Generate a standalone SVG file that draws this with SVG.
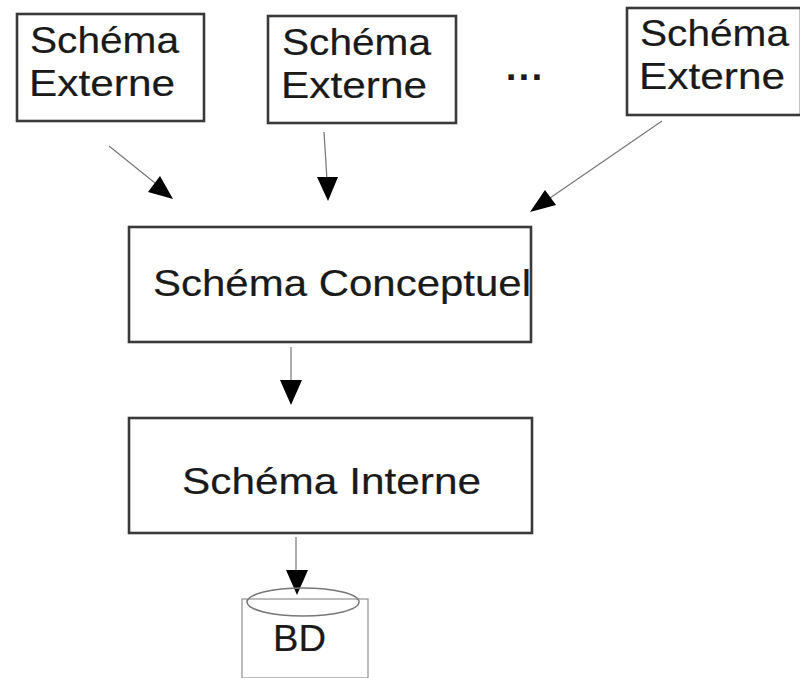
<svg xmlns="http://www.w3.org/2000/svg" width="800" height="678" viewBox="0 0 800 678">
<style>
text{font-family:"Liberation Sans",Arial,sans-serif;fill:#1a1a1a;font-size:37px;stroke:#1a1a1a;stroke-width:.2}
.b{fill:#fff;stroke:#3a3a3a;stroke-width:2.6}
.l{stroke:#777;stroke-width:1.2;fill:none}
.h{fill:#000;stroke:none}
</style>
<rect width="800" height="678" fill="#fff"/>
<g id="connectors">
<line class="l" x1="109" y1="146" x2="155" y2="183"/><polygon class="h" points="173,199 148,192 160,176"/>
<line class="l" x1="324" y1="132" x2="327" y2="180"/><polygon class="h" points="328,201 317,177 338,177"/>
<line class="l" x1="662" y1="121" x2="550" y2="198"/><polygon class="h" points="530,212 545,190 556,205"/>
<line class="l" x1="291" y1="347" x2="291" y2="382"/><polygon class="h" points="291,405 280,380 302,380"/>
<line class="l" x1="296" y1="537" x2="296" y2="572"/><polygon class="h" points="297,595 286,570 308,570"/>
</g>
<g id="ext1"><rect class="b" x="17" y="14" width="187" height="107"/><text x="30" y="53" textLength="149" lengthAdjust="spacingAndGlyphs">Schéma</text><text x="29" y="96" textLength="146" lengthAdjust="spacingAndGlyphs">Externe</text></g>
<g id="ext2"><rect class="b" x="268" y="16" width="188" height="107"/><text x="282" y="55" textLength="149" lengthAdjust="spacingAndGlyphs">Schéma</text><text x="281" y="98" textLength="146" lengthAdjust="spacingAndGlyphs">Externe</text></g>
<g id="dots"><text x="506" y="80" font-size="32" font-weight="700" textLength="36" lengthAdjust="spacing">...</text></g>
<g id="ext3"><rect class="b" x="627" y="8" width="174" height="107"/><text x="640" y="46" textLength="149" lengthAdjust="spacingAndGlyphs">Schéma</text><text x="639" y="89" textLength="146" lengthAdjust="spacingAndGlyphs">Externe</text></g>
<g id="conceptuel"><rect class="b" x="129" y="227" width="402" height="115"/><text x="153" y="296" textLength="378" lengthAdjust="spacingAndGlyphs">Schéma Conceptuel</text></g>
<g id="interne"><rect class="b" x="129" y="418" width="403" height="115"/><text x="182" y="494" textLength="299" lengthAdjust="spacingAndGlyphs">Schéma Interne</text></g>
<g id="bd"><rect x="242" y="599" width="126" height="79" fill="#fff" stroke="#999" stroke-width="1.3"/><ellipse cx="303" cy="602" rx="56" ry="14" fill="none" stroke="#777" stroke-width="1.5"/><text x="273" y="651" textLength="53" lengthAdjust="spacingAndGlyphs">BD</text></g>
</svg>
